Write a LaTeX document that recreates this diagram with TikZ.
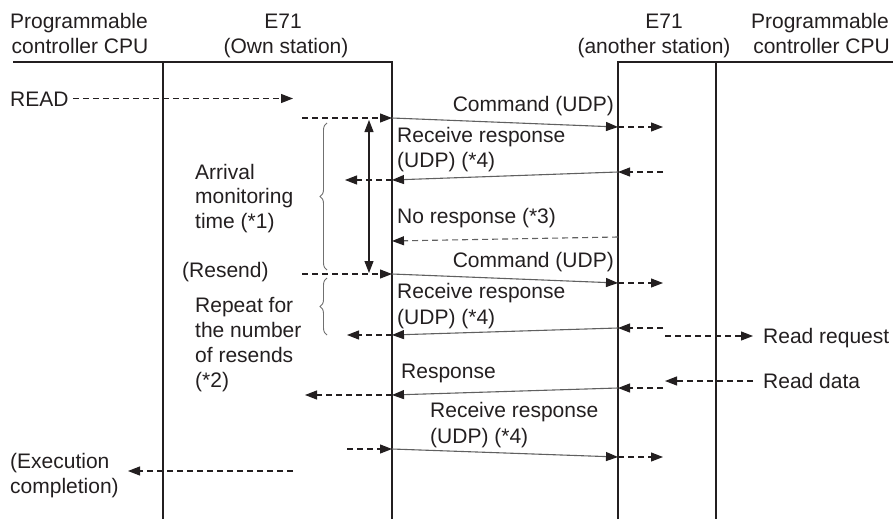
\documentclass[tikz,border=0pt]{standalone}
\usepackage{fontspec}
\setmainfont{Liberation Sans}
\usetikzlibrary{arrows.meta,decorations.pathreplacing}
\definecolor{ink}{HTML}{231F20}
\definecolor{msg}{HTML}{606060}
\definecolor{brc}{HTML}{707070}
\begin{document}
\begin{tikzpicture}[x=1pt,y=-1pt,
  txt/.style={font=\fontsize{21}{25}\selectfont, text=ink, inner sep=0pt},
  life/.style={line width=2.2pt, draw=ink, line join=miter},
  tip/.style={-{Triangle[length=12pt,width=9pt,color=ink]}},
  dsh/.style={tip, draw=ink, line width=1.1pt, dash pattern=on 6pt off 4pt},
  gdsh/.style={tip, draw=msg, line width=1.1pt, dash pattern=on 6pt off 4pt},
  msgl/.style={tip, draw=msg, line width=1.1pt},
  dbl/.style={{Triangle[length=12pt,width=9pt,color=ink]}-{Triangle[length=12pt,width=9pt,color=ink]}, draw=ink, line width=1.1pt},
  brace/.style={draw=brc, line width=0.9pt, decorate, decoration={brace, amplitude=7pt}}
]
\useasboundingbox (0,0) rectangle (893,519);

% lifelines
\coordinate (topL) at (13,62);
\coordinate (L1t) at (163,62);  \coordinate (L1b) at (163,519);
\coordinate (L2t) at (392,62);  \coordinate (L2b) at (392,519);
\coordinate (L3t) at (618,62);  \coordinate (L3b) at (618,519);
\coordinate (L4t) at (716,62);  \coordinate (L4b) at (716,519);
\coordinate (topR) at (893,62);
\draw[life] (topL) -- (L2t) -- (L2b);
\draw[life] (L1t) -- (L1b);
\draw[life] (L3b) -- (L3t) -- (topR);
\draw[life] (L4t) -- (L4b);

% headers
\node[txt,anchor=base] (h1a) at (79,29) {Programmable};
\node[txt,anchor=base] (h1b) at (80,53.5) {controller CPU};
\node[txt,anchor=base] (h2a) at (283,29) {E71};
\node[txt,anchor=base] (h2b) at (286,53.5) {(Own station)};
\node[txt,anchor=base] (h3a) at (664,29) {E71};
\node[txt,anchor=base] (h3b) at (654,53.5) {(another station)};
\node[txt,anchor=base east] (h4a) at (889,29) {Programmable};
\node[txt,anchor=base east] (h4b) at (890,53.5) {controller CPU};

% texts
\node[txt,anchor=base west] (read) at (10,106.5) {READ};
\node[txt,anchor=base east] (cmd1) at (614,111) {Command (UDP)};
\node[txt,anchor=base west] (rr1a) at (397,142) {Receive response};
\node[txt,anchor=base west] (rr1b) at (397,167) {(UDP) (*4)};
\node[txt,anchor=base west] (nores) at (397,223) {No response (*3)};
\node[txt,anchor=base east] (cmd2) at (614,267) {Command (UDP)};
\node[txt,anchor=base west] (rr2a) at (397,298) {Receive response};
\node[txt,anchor=base west] (rr2b) at (397,324) {(UDP) (*4)};
\node[txt,anchor=base west] (resp) at (401,378) {Response};
\node[txt,anchor=base west] (rr3a) at (430,417) {Receive response};
\node[txt,anchor=base west] (rr3b) at (430,443) {(UDP) (*4)};
\node[txt,anchor=base west] (arr1) at (195,179) {Arrival};
\node[txt,anchor=base west] (arr2) at (195,203.5) {monitoring};
\node[txt,anchor=base west] (arr3) at (195,228) {time (*1)};
\node[txt,anchor=base west] (resend) at (182,277) {(Resend)};
\node[txt,anchor=base west] (rep1) at (195,312) {Repeat for};
\node[txt,anchor=base west] (rep2) at (195,337.5) {the number};
\node[txt,anchor=base west] (rep3) at (195,362.5) {of resends};
\node[txt,anchor=base west] (rep4) at (195,387.5) {(*2)};
\node[txt,anchor=base west] (exe1) at (10,468) {(Execution};
\node[txt,anchor=base west] (exe2) at (10,493) {completion)};
\node[txt,anchor=base west] (rreq) at (763,343) {Read request};
\node[txt,anchor=base west] (rdat) at (763,388) {Read data};

% READ
\coordinate (readS) at (73,98.5); \coordinate (readE) at (293,98.5);
\draw[dsh] (readS) -- (readE);

% row 1: command
\coordinate (c1a) at (302,118); \coordinate (c1b) at (392,118);
\coordinate (c1c) at (618,127); \coordinate (c1d) at (663,127);
\draw[dsh] (c1a) -- (c1b);
\draw[msgl] (c1b) -- (c1c);
\draw[dsh] (c1c) -- (c1d);

% arrival monitoring double arrow and brace
\coordinate (am1) at (369,120); \coordinate (am2) at (369,273);
\draw[dbl] (am1) -- (am2);
\coordinate (b1b) at (327,270); \coordinate (b1t) at (327,123);
\draw[brace] (b1b) -- (b1t);

% row 2: receive response
\coordinate (r1a) at (663,172); \coordinate (r1b) at (618,172);
\coordinate (r1c) at (392,180); \coordinate (r1d) at (345,180);
\draw[dsh] (r1a) -- (r1b);
\draw[msgl] (r1b) -- (r1c);
\draw[dsh] (r1c) -- (r1d);

% no response
\coordinate (n1a) at (618,237); \coordinate (n1b) at (392,241);
\draw[gdsh] (n1a) -- (n1b);

% row 4: resend command
\coordinate (c2a) at (302,274); \coordinate (c2b) at (392,274);
\coordinate (c2c) at (618,283); \coordinate (c2d) at (663,283);
\draw[dsh] (c2a) -- (c2b);
\draw[msgl] (c2b) -- (c2c);
\draw[dsh] (c2c) -- (c2d);

% brace 2
\coordinate (b2b) at (327,335); \coordinate (b2t) at (327,278);
\draw[brace] (b2b) -- (b2t);

% row 5: receive response
\coordinate (r2a) at (663,328); \coordinate (r2b) at (618,328);
\coordinate (r2c) at (392,335); \coordinate (r2d) at (347,335);
\draw[dsh] (r2a) -- (r2b);
\draw[msgl] (r2b) -- (r2c);
\draw[dsh] (r2c) -- (r2d);

% read request / read data
\coordinate (q1) at (665,336); \coordinate (q2) at (753,336);
\draw[dsh] (q1) -- (q2);
\coordinate (d1) at (753,381); \coordinate (d2) at (665,381);
\draw[dsh] (d1) -- (d2);

% row 6: response
\coordinate (s1a) at (663,388); \coordinate (s1b) at (618,388);
\coordinate (s1c) at (392,395); \coordinate (s1d) at (305,395);
\draw[dsh] (s1a) -- (s1b);
\draw[msgl] (s1b) -- (s1c);
\draw[dsh] (s1c) -- (s1d);

% row 7: receive response
\coordinate (r3a) at (347,449); \coordinate (r3b) at (392,449);
\coordinate (r3c) at (618,457); \coordinate (r3d) at (663,457);
\draw[dsh] (r3a) -- (r3b);
\draw[msgl] (r3b) -- (r3c);
\draw[dsh] (r3c) -- (r3d);

% execution completion
\coordinate (e1) at (293,471); \coordinate (e2) at (128,471);
\draw[dsh] (e1) -- (e2);
\end{tikzpicture}
\end{document}
